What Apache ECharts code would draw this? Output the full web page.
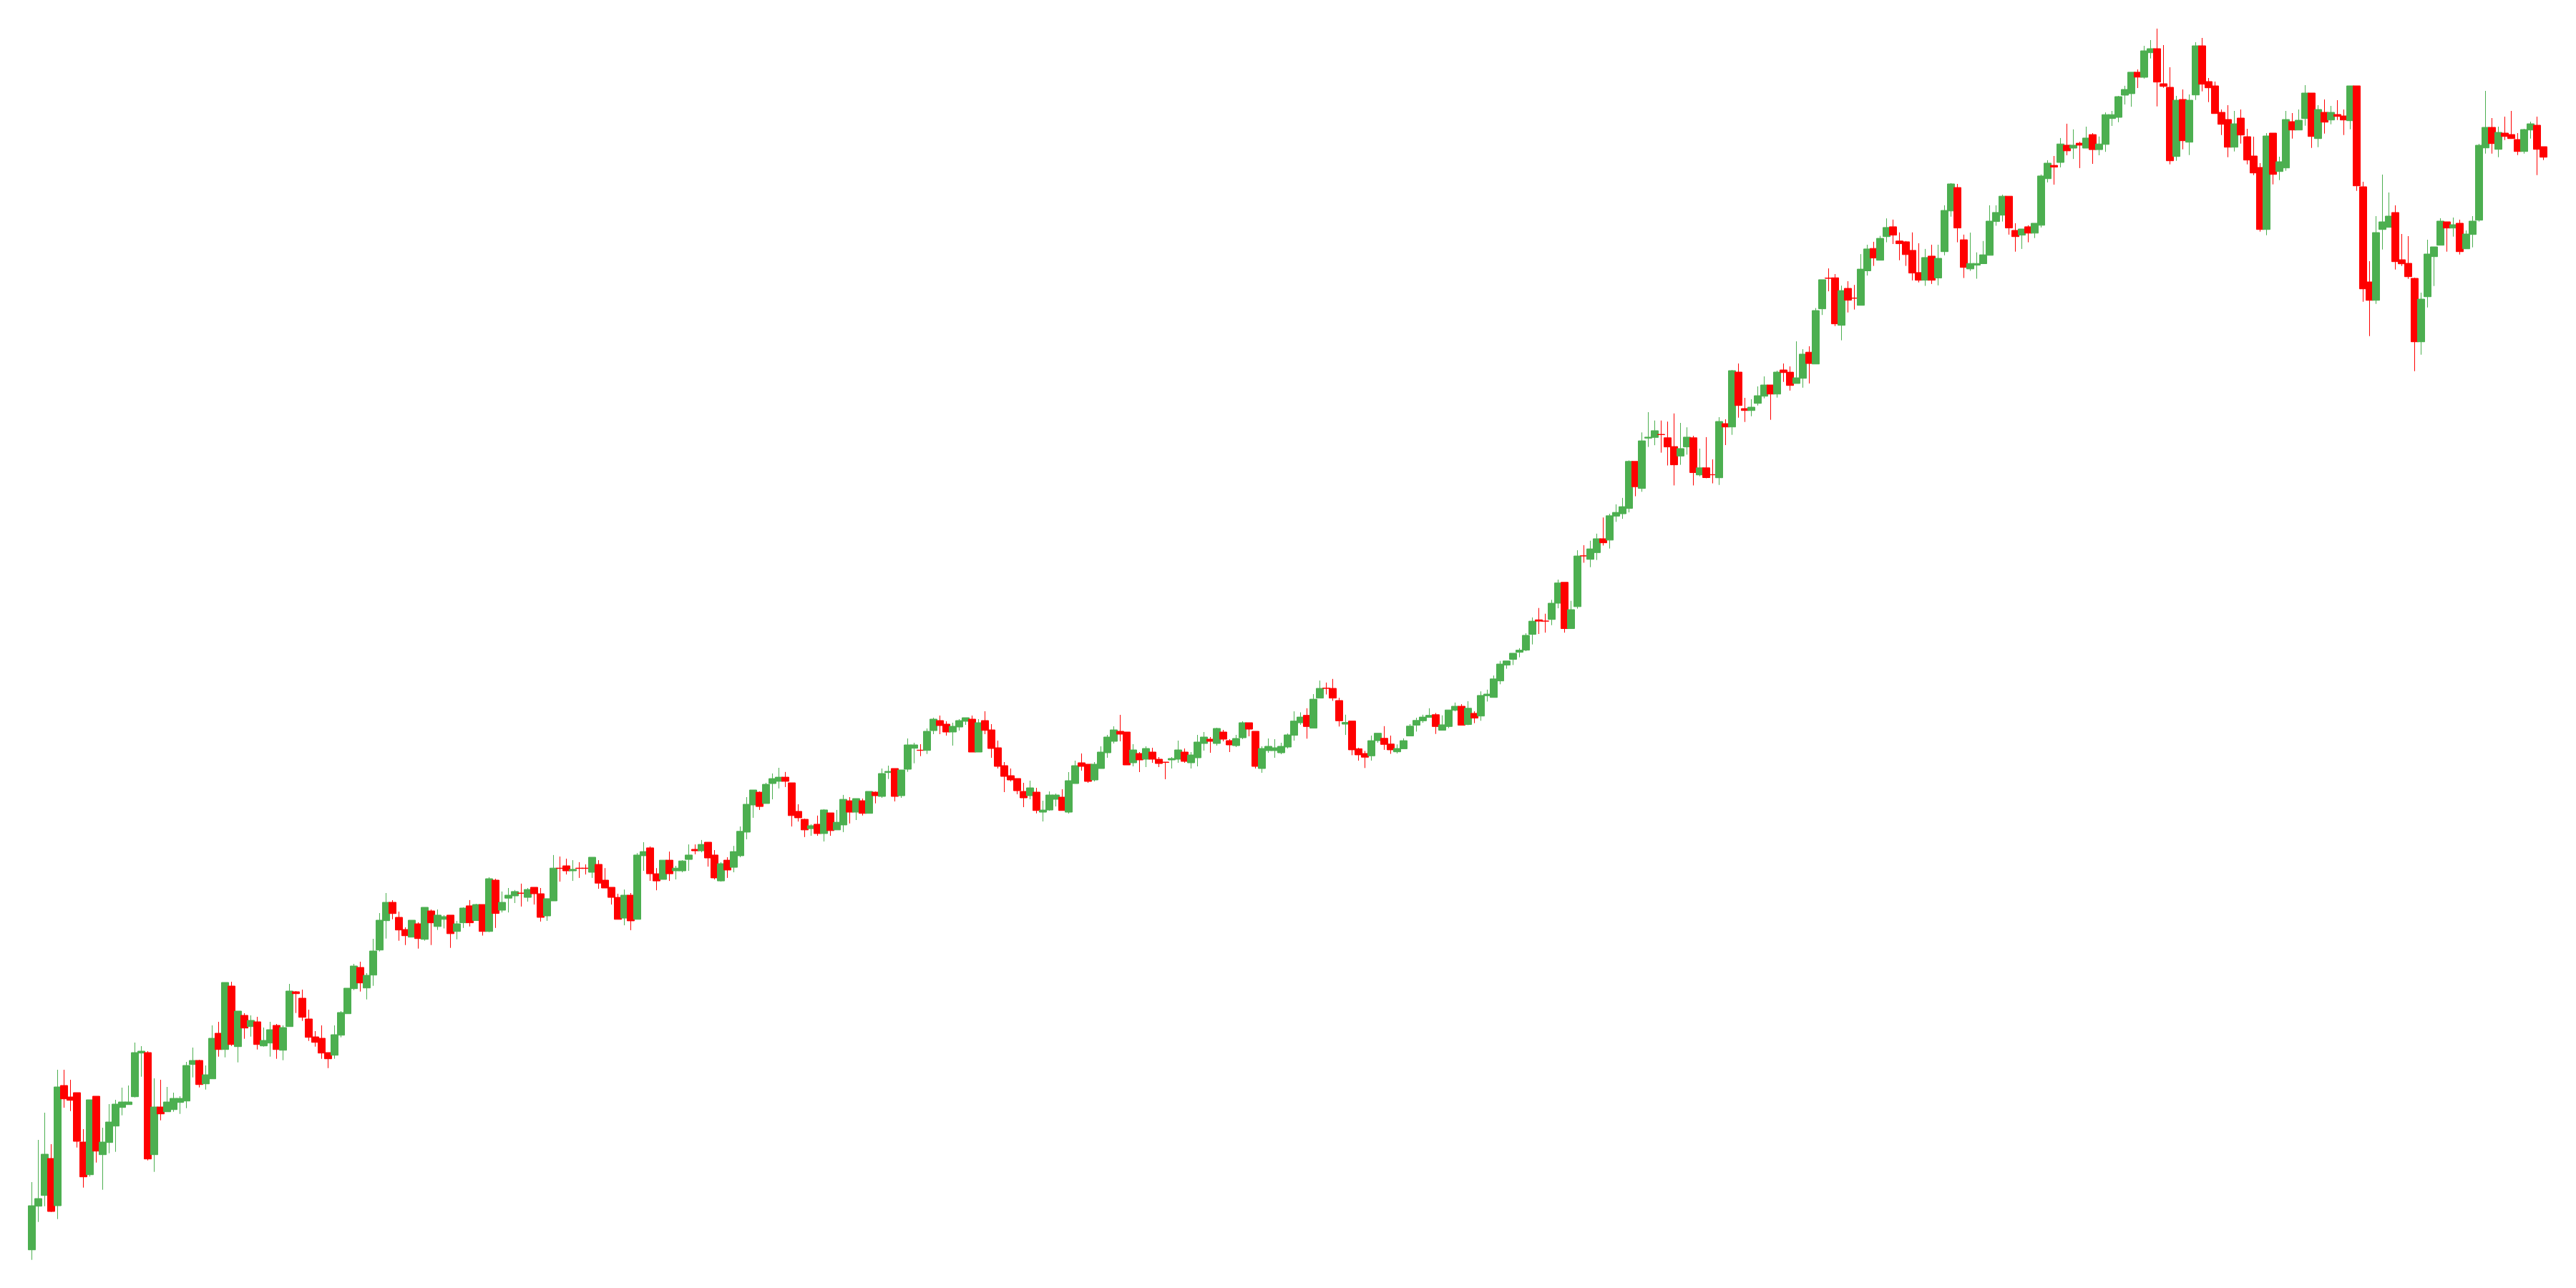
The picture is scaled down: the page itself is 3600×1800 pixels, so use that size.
<!DOCTYPE html>
<html>
<head>
<meta charset="utf-8">
<script src="https://cdn.jsdelivr.net/npm/echarts@6/dist/echarts.min.js"></script>
<style>
html,body{margin:0;padding:0;background:#ffffff;}
#chart{width:3600px;height:1800px;}
</style>
</head>
<body>
<div id="chart"></div>
<script>
// Values (arbitrary price units, no axis shown)
const opens = [
53.3,114.3,129.3,181,115,283,267,273,204,158.3,
268,186.3,203.3,226.3,252.3,256.3,267.3,328.3,329,186.3,
253,246.3,249.3,259.3,261.3,312.3,318,285.3,292.3,356,
333.3,422,337.3,381,365.3,372,338.3,342.3,367,332.3,
365.3,414,405,376,351,349,329,325.3,353.3,383.3,
418.3,448,419.3,437.3,472.3,513.3,539,518,501,490.3,
509,487.3,527,505.2,515.2,521.1,498.3,510.4,534.1,513.5,
535.9,498.3,570,528,544.8,548,552,545.9,560,551,
520,541,586.8,590,583,586.8,586.8,581,592,570,
560,545.9,516.9,549,515.2,604.1,615.1,578.9,571,597.9,
583,583,598.9,613,611,623,605.1,568.9,597.9,587.9,
604.1,637.1,675,692.9,677.1,705,708.1,713.9,706,666.1,
655,641.9,648.1,635.1,664,640.2,647.1,680.9,665,681,
663.3,693,687,720.3,726,688,725,754.3,751.7,751.3,
779,793,788,777,784,792,795,749,793,780,
755,730,716,712,694,688,693,665,668,683,
686,665,705,734,732,710,726,748,764,778,
777,734,747,739,749,739,735,738,739,749,
734,741,761,767,761,777,765,758,769,790,
778,726,751,751,748,756,772.4,789.9,800.3,782.4,
824.4,838.3,838,821,788,792.3,753.6,747,743.7,764.9,
768.2,760.2,749.3,753.6,771.5,786.6,792.7,797.5,801.2,779.5,
784.7,807.4,813,787.5,803.1,799.3,827.7,825.3,848.4,870.6,
878.6,888.5,891.4,913.5,933.8,932.1,934.3,957,986.2,921.6,
952.2,1023.3,1018.3,1027.7,1047.1,1045.2,1078.7,1082,1089.6,1155.2,
1117.4,1187.7,1188.7,1192.9,1188.2,1175.9,1162.7,1175.4,1188.2,1136.3,
1146.2,1136.7,1132.3,1208,1203.3,1280,1229,1226.3,1236.3,1246.3,
1262,1249.3,1283,1279.9,1264.1,1271.3,1307.8,1291.3,1368.4,1411.5,
1411.8,1345.4,1397,1383.6,1373.3,1421.5,1452.8,1436.3,1469.3,1483.1,
1463.2,1462.1,1450.1,1419.1,1408.4,1442.1,1411.5,1448.3,1505.2,1537.9,
1464.9,1424.2,1429.4,1431.5,1443.2,1490.4,1499.3,1525.8,1478,1471.4,
1483.1,1474.2,1485.2,1550.3,1568.9,1573,1597.1,1593,1599.9,1593,
1611.9,1590.9,1598.2,1634.3,1636,1667,1669.1,1699.1,1692,1726.3,
1732,1683,1678,1581.3,1661,1601.3,1667.3,1736,1686,1680,
1643,1633,1594.3,1635,1609,1582,1566,1479.3,1614,1560.3,
1565.3,1630,1618.3,1634.3,1670,1606.3,1643,1632.3,1640,1638,
1631.3,1680,1539,1406,1380.3,1479.3,1482.3,1503,1437,1432,
1411,1322.3,1385.3,1441.3,1457.3,1490,1481.3,1488,1452.3,1472.3,
1492.3,1593.3,1622,1591.3,1614,1612,1605,1588.3,1618.3,1625,
1595
];
const closes = [
115,125,187,107,281,264.3,262.3,205,155.3,263,
191.3,204,232,257,260,260,329,331,180.3,253,
243.3,260,265,265,311,318,284.3,298,349,333.3,
427,340.3,387,363.3,374,340.3,346,361,333.3,364,
415,411.3,378.3,350.3,343.3,328.3,320.3,354,385,419,
450,426.3,437,471,514,539,523.3,500.3,492.3,514,
488.3,532,510.3,521.1,519,495.2,509,531,510.4,535.9,
498.3,572,523.5,539,549,554.1,551.5,556.9,551,518,
544.1,586.8,586.3,583,585.1,586.3,586.3,602,565.8,559,
545.9,515.2,549,513.1,605.1,609.9,578.9,568.9,597.9,578.9,
586.8,596.8,605.1,611,619.9,601,573.1,593,584.1,609.9,
638.2,676,696,672.9,703.9,711.9,713.9,708.1,660.2,657.1,
640.2,646.1,635.1,668.1,639.2,650.9,682.9,665,684,663.3,
694,688,719,722,687,724,759,759,751.3,778,
795,786,777,785,793,797,749,790,779.3,754,
729,715,710,695,685,699,667.3,668,689,689,
667.3,709,730,729,708,732,749,770,780,774,
731,752,738,754,739,733,734.5,740,752,736,
745,763,770,764,782,767,759,768,790,781,
729,754,757,755,757,773,792.3,797.9,784.7,822.9,
838,838,824.4,792.7,790.4,752.1,745.1,741.8,764.9,775.3,
759.7,752.1,754,764.9,785.2,793.2,797.9,800.3,784.7,787.1,
807.8,813,786.6,810.2,796.5,828.1,830,851.2,872,876.3,
887.1,891.4,912.1,931.9,931.9,931.9,957,985.3,921.6,948,
1023,1023,1032.9,1047.1,1041.4,1079.2,1083.9,1091.9,1155.2,1119.8,
1183.9,1189.1,1198.1,1192.6,1175.4,1150.4,1173.1,1189.1,1139.6,1146.2,
1132.5,1136.4,1211,1203.3,1282,1233.3,1226.3,1231,1247,1262,
1249.3,1280,1279.3,1261.3,1272,1305.1,1292,1366,1409.1,1411,
1347.4,1393.9,1380.5,1383.1,1423.9,1452.1,1439.4,1466.9,1482.1,1471.4,
1459.4,1444.2,1418.4,1408.4,1440.1,1408.4,1439,1505.9,1543,1481.4,
1426.3,1431.8,1431.8,1443.9,1491,1503.1,1525.8,1481.4,1469.3,1480,
1474.2,1488,1554.1,1572,1566.5,1598.8,1589.2,1597.1,1597.1,1607.1,
1590.9,1598.8,1639.8,1639.8,1665,1675,1699.1,1692.2,1729,1732,
1685.3,1679.3,1575.3,1660,1603.3,1660,1736,1682.3,1677.3,1641.3,
1626.3,1594.3,1627,1611.3,1576.3,1558.3,1479.3,1610,1556.3,1574,
1633,1618.3,1632,1670,1609.3,1647,1629.3,1643,1637.3,1632.3,
1680,1540.3,1396.3,1380.3,1475,1490,1498,1434.3,1431.3,1413.3,
1322.3,1382,1445,1455,1491,1481.3,1486,1448.3,1473,1491,
1597,1622,1599.3,1615,1609.3,1606.3,1588.3,1619,1627,1591.3,
1580.3
];
const lows = [
39.3,92.3,114.3,106.3,96.3,252,247.3,196.3,140.3,155.7,
175.3,137.3,188.3,190.3,241.3,256.3,266.3,295.3,178.3,162.3,
234.3,246.3,246.3,243.3,251.3,294.3,280.3,277.3,292.3,323.3,
322.3,338.3,315.3,348.3,351.3,333.3,337.3,323.3,320.3,318.3,
365.3,384.3,373.3,345.3,337.3,320.3,307.3,320.3,350.3,383.3,
416.3,414.3,403.3,422.3,470.3,488.3,515.3,485.3,479.3,490.3,
474.3,485.3,479.3,500.4,502.5,475.3,487.3,503.2,505.2,513.5,
492.5,497.3,503.2,524.8,524.8,538,533.1,540,535.9,512.1,
513.1,541,567.9,577.9,568.9,573.1,577.9,573.1,557.9,559,
535.9,515.2,506.9,500,515.2,583,569,555.8,571,568.9,
571,581,583,606.1,608.9,588.9,571,567.9,573.1,581,
602,627.1,657.1,668.1,677.1,682.9,698.1,700.1,645,651.9,
630.2,632,632,624,632,640.2,637.1,649.2,654,660.3,
663.3,677.3,685,711.3,680,685,721.3,733.3,743.3,746.3,
774,774,772,758,779,787,749,749,774,741,
726,693,708,690,672,683,663.3,652,667,673,
667.3,663,705,723,706,708,726,741,761,764,
731,729,721,728,734,728,711,726,734,734,
726,729,751,748,758,764,749,756,767,771,
726,720,748,741,746,754,764.9,787.1,767.7,782.4,
824.4,829.5,820.6,784.7,772.9,744.6,737,726.7,737,762.1,
752.1,746.5,747,753.6,771.5,777.6,789.9,797.5,774.3,779.5,
782.4,805.9,786.6,786.6,789.4,792.7,819.6,825.3,843.7,865.4,
870.6,881.4,890,899.4,914,915.9,926.3,949.9,915.9,921.6,
949.4,1013.6,1007.4,1017.4,1037.6,1033.4,1070.7,1074.9,1083.9,1106.5,
1112.7,1175.4,1177.8,1167.4,1149.5,1121.6,1150.4,1164.6,1121.6,1134.4,
1131.6,1124.5,1122.3,1178,1192.3,1216.3,1210.3,1218.3,1233.3,1243.3,
1213.3,1244.3,1266.3,1254.1,1264.1,1258.2,1264.1,1291.3,1359.8,1392.9,
1344.3,1324.4,1363.3,1367.4,1373.3,1414.9,1428.4,1436.3,1461.4,1459,
1436.3,1428.4,1408.1,1405.3,1400.5,1403.2,1401.2,1443.2,1497.2,1461.4,
1411.5,1421.5,1410.5,1431.5,1443.2,1484.5,1490.4,1472.1,1448.3,1452.1,
1461.4,1467.3,1482.1,1545.1,1542,1566.1,1583,1577.8,1565.1,1593,
1571,1583,1587.8,1624,1629.2,1654,1650.8,1677,1690.1,1718.3,
1651.3,1677.3,1570.3,1575.3,1591.3,1583.3,1660.3,1672.3,1657.3,1641.3,
1611.3,1580.3,1588.3,1599.3,1570.3,1555.3,1476.3,1471.3,1542.3,1548.3,
1561.3,1606.3,1618.3,1624.3,1593.3,1594.3,1613.3,1626.3,1632.3,1611.3,
1619.3,1533.3,1378.3,1330.3,1375.3,1451.3,1482.3,1423.3,1428.3,1410.3,
1281.3,1304.3,1370.3,1400.3,1457.3,1448.3,1469.3,1444.3,1452.3,1454.3,
1490.3,1585.3,1585.3,1580.3,1604.3,1606.3,1583.3,1585.3,1606.3,1555.3,
1576.3
];
const highs = [
148,207,245,201,305,305,291,273,222,263,
268,224,257,263,280,283,343,338,331,293,
291,281,273,268,316,336,319,311,367,372,
427,428,387,384,381,379,364,372,369,367,
425,415,417,389,359,367,329,367,387,419,
453,456,440,488,524,552,542,526,504,514,
511,532,529,529,521.1,521.1,513.1,532,542.1,536.9,
535.9,574.1,572,554.1,559,556.2,565.1,559,560,559,
544.1,605.1,603,600,597.9,595.1,592,602,597.9,586.8,
560,551,556.9,552,607.8,623,617.1,586.8,597.9,609.9,
590,597.9,619.9,619.9,626.1,623,612,595.1,602,617.8,
645,686,696,694,706,719.1,727,721.2,706,676,
656,648.1,660.2,669.2,664,668.1,689.1,686,684,684,
694,694,726,730,726,724,768,762,760,782,
797,800,792,790,795,797,800,795,806,788,
765,735,726,712,706,709,699,681,694,691,
697,721,737,747,732,735,757,773,785,801,
777,760,749,757,755,742,735,742,765,754,
749,773,777,770,783,780,767,773,792,790,
778,757,768,767,762,775,805.9,804.5,810.2,830,
848.9,846.1,851.2,824.8,801.2,792.3,755,750.7,772,775.3,
785.2,772,759.7,768.2,788,797,801.2,810.2,803.6,800.3,
807.8,818.2,815.9,820.1,805.9,833.8,836.2,856,876.3,876.3,
887.1,894.2,915,937.1,950.3,942.3,961.7,990,986.2,960.3,
1031,1038.1,1044.3,1054.2,1076.8,1082,1095.2,1104.2,1156.6,1155.2,
1195.7,1224,1212.3,1212.3,1210.8,1222.2,1209,1202.8,1191,1173.1,
1189.1,1158,1217,1214,1283,1292,1244,1242,1260,1274,
1262,1282,1292,1287.9,1323,1312,1316.1,1369.5,1409.1,1424.9,
1417,1400.8,1407,1401.8,1444.9,1458,1462.1,1470.4,1494.8,1493.1,
1475.2,1463.2,1475.2,1460,1452.1,1458,1458,1513.1,1544.1,1543,
1472.1,1474.9,1447.3,1463.2,1513.1,1513.1,1527.9,1525.8,1488,1480,
1485.2,1488,1556.1,1576.1,1582,1607.1,1627.1,1619.2,1601.9,1623,
1614,1609.2,1642.9,1645,1666,1680.1,1699.1,1702.9,1735.9,1744,
1760,1737,1706,1666,1675,1668,1741,1747,1691,1686,
1647,1653,1645,1647,1620,1609,1572,1614,1614,1581,
1645,1642,1647,1681,1670,1653,1661,1652,1660,1647,
1680,1680,1546,1435,1498,1556,1531,1513,1473,1470,
1412,1391,1465,1455,1495,1490,1496,1493,1478,1498,
1599,1673,1635,1623,1637,1645,1614,1620,1630,1637,
1595
];
const categories = opens.map((_, i) => 'P' + (i + 1));

// ECharts candlestick item: [open, close, lowest, highest]
const candleData = opens.map((o, i) => {
  const c = closes[i];
  const lo = Math.min(lows[i], o, c);
  const hi = Math.max(highs[i], o, c);
  return [o, c, lo, hi];
});

const chart = echarts.init(document.getElementById('chart'), null, {renderer: 'canvas'});
chart.setOption({
  animation: false,
  backgroundColor: '#ffffff',
  grid: {left: 40, top: 0, width: 3519, height: 1800},
  xAxis: {type: 'category', data: categories, boundaryGap: true, show: false},
  yAxis: {type: 'value', min: 0, max: 1800, show: false, splitLine: {show: false}},
  series: [{
    type: 'candlestick',
    data: candleData,
    barWidth: 10,
    itemStyle: {
      color: '#4CAF50',
      color0: '#FF0000',
      borderColor: '#4CAF50',
      borderColor0: '#FF0000',
      borderWidth: 1
    }
  }]
});
</script>
</body>
</html>
